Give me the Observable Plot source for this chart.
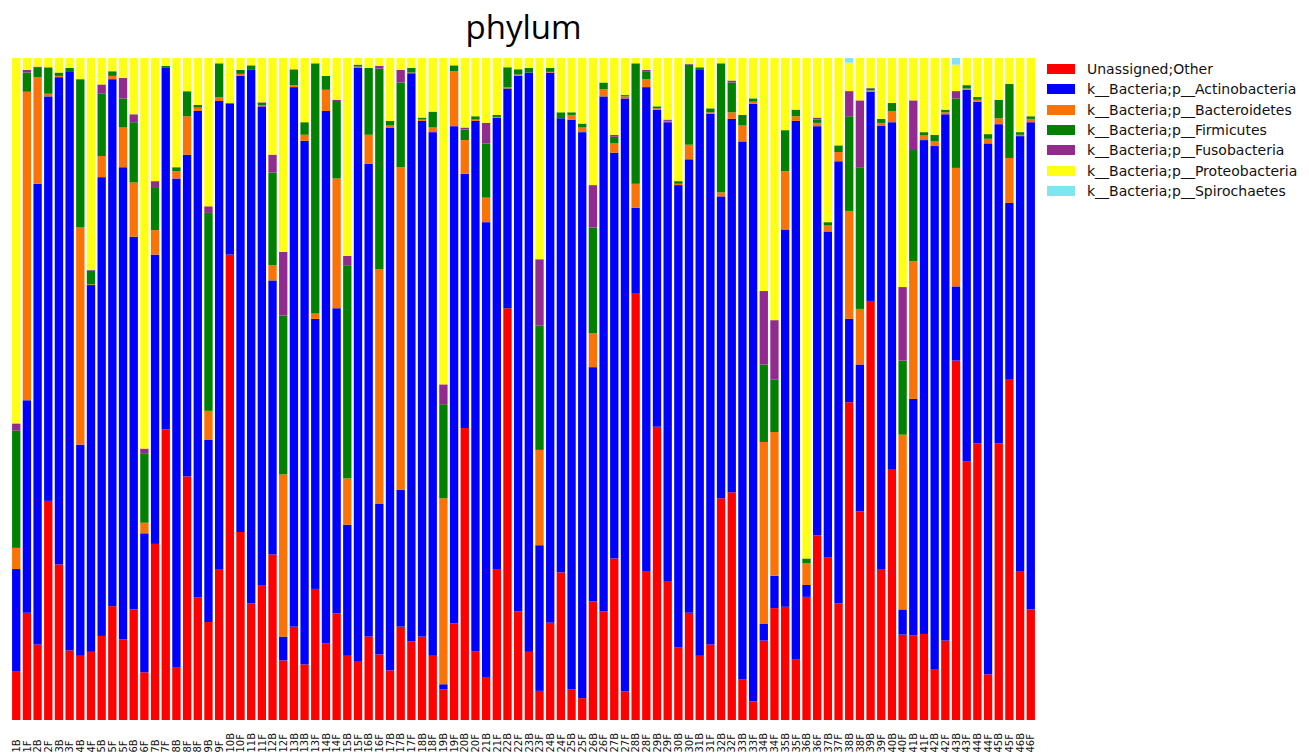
<!DOCTYPE html>
<html><head><meta charset="utf-8">
<script src="https://cdn.jsdelivr.net/npm/d3@7"></script>
<script src="https://cdn.jsdelivr.net/npm/@observablehq/plot@0.6"></script>
<style>
body{margin:0;background:#fff;width:1309px;height:756px;overflow:hidden;position:relative;font-family:"DejaVu Sans",sans-serif;}
#chart{position:absolute;left:0;top:0;}
#title{position:absolute;left:11px;width:1025px;top:3px;text-align:center;font-family:"Open Sans",sans-serif;font-size:33px;color:#000;line-height:48px;}
#legend{position:absolute;left:1047px;top:59px;}
.row{display:flex;align-items:center;height:20.3px;}
.sw{width:28px;height:10px;margin-right:12px;flex:none;}
.lab{font-family:"DejaVu Sans",sans-serif;font-size:14px;color:#111;white-space:nowrap;}
</style></head>
<body>
<div id="chart"></div>
<div id="title">phylum</div>
<div id="legend"></div>
<script>
// tick labels, one per bar
const samples = ["1B","1F","2B","2F","3B","3F","4B","4F","5B","5F","5F","6B","6F","7B","7F","8B","8F","8F","9B","9F","10B","10F","11B","11F","12B","12F","13B","13B","13F","14B","14F","15B","15F","16B","16F","17B","17B","17F","18B","18F","19B","19F","20B","20F","21B","21F","22B","22F","23B","23F","24B","24F","25B","25F","26B","26F","27B","27F","28B","28F","29B","29F","30B","30F","31B","31F","32B","32F","33B","33F","34B","34F","35B","35F","36B","36F","37B","37F","38B","38F","39B","39F","40B","40F","41B","41F","42B","42F","43B","43F","44B","44F","45B","45F","46B","46F"];

const phyla = ["Unassigned;Other","k__Bacteria;p__Actinobacteria","k__Bacteria;p__Bacteroidetes","k__Bacteria;p__Firmicutes","k__Bacteria;p__Fusobacteria","k__Bacteria;p__Proteobacteria","k__Bacteria;p__Spirochaetes"];
const colors = ["#ff0000","#0000ff","#f97306","#028002","#922b8e","#ffff14","#7fe6f0"];

const unassigned = [7.3,16.2,11.4,33.1,23.5,10.5,9.7,10.3,12.7,17.2,12.2,16.7, 7.2,26.6,43.9,8.0,36.8,18.5,14.8,22.8,70.3,28.4,17.6,20.3, 25.0,9.0,14.1,8.4,19.8,11.6,16.1,9.7,8.8,12.6,9.9,7.5, 14.1,11.9,12.6,9.7,4.6,14.6,44.1,10.4,6.5,22.8,62.2,16.4, 10.3,4.4,14.7,22.3,4.6,3.3,17.9,16.4,24.4,4.3,64.5,22.5,44.3, 21.0,11.0,16.2,9.7,11.4,33.5,34.4,6.1,2.8,12.0,16.9,17.1, 9.2,18.6,27.9,24.6,17.6,48.0,31.5,63.3,22.7,37.8,12.9,12.8, 13.0,7.7,12.0,54.3,39.1,41.8,6.9,41.8,51.4,22.4,16.7];
const actinobacteria = [15.5,32.1,69.6,61.1,73.6,87.5,31.9,55.4,69.3,79.6,71.3,56.3, 21.0,43.7,54.7,73.8,48.6,73.5,27.5,70.7,22.8,68.9,80.6,72.4, 41.4,3.6,81.5,79.1,40.8,80.4,46.1,19.8,89.7,71.4,22.8,82.0, 20.7,85.8,77.9,79.1,0.8,75.1,38.4,80.1,68.7,68.2,33.2,80.9, 87.5,22.0,83.1,68.6,86.1,85.5,35.4,77.8,61.3,89.6,12.9,73.1,47.9, 69.3,69.8,68.5,88.6,80.2,45.6,56.4,81.3,90.3,2.5,4.9,57.0, 81.3,1.8,61.8,49.2,66.8,12.6,22.2,31.6,67.1,52.5,3.8,35.7, 74.6,79.0,79.5,11.2,56.1,51.6,80.2,48.2,26.7,65.8,73.6];
const bacteroidetes = [3.2,46.6,16.1,0.4,0.2,0,32.8,0.1,3.2,0.5,6.0,8.2, 1.6,3.7,0,1.1,5.8,0.5,4.4,0.6,0,0.3,0,0.2, 2.3,24.5,0.3,0.9,0.8,3.2,19.6,7.0,0.2,4.4,35.4,0.3, 48.7,0.1,0.2,0.7,28.1,8.3,5.1,0.2,3.7,0.1,0.2,0.2, 0,14.4,0.1,0,0.7,0.7,5.1,1.1,1.4,0.3,3.6,1.2,0.2, 0.2,0.2,2.2,0,0.2,0.6,1.0,2.4,0.3,27.5,21.7,8.8, 0.7,3.3,0.5,0.9,1.4,16.3,8.4,0.2,0.4,1.7,26.4,20.8, 0.7,0.7,0.3,17.9,0.2,0.3,0.7,0.9,6.8,0.2,0.5];
const firmicutes = [17.7,2.9,1.4,3.9,0.5,0.5,22.4,2.1,9.4,0.7,4.4,9.1, 10.5,6.5,0.2,0.6,3.7,0.4,29.9,5.1,0.1,0.6,0.6,0.3, 14.0,24.0,2.3,1.9,37.8,2.1,11.7,32.2,0.3,10.1,30.3,0.7, 12.8,0.7,0.3,2.4,14.2,0.8,1.6,0.5,8.2,0.3,3.0,0.8, 0.7,18.8,0.6,0.9,0.4,0.6,16.0,1.0,1.0,0.2,18.2,1.2,0.3, 0,0.4,12.1,0.3,0.6,19.5,4.5,1.6,0.5,11.7,7.9,6.2, 1.0,0.7,0.5,0.5,1.0,14.3,21.4,0.3,0.6,1.2,11.2,16.8, 0.5,1.0,0.4,10.5,0.5,0.4,0.7,2.8,11.2,0.4,0.4];
const fusobacteria = [1.1,0.4,0.2,0.1,0,0,0,0.1,1.4,0,3.1,1.2, 0.7,0.9,0,0,0.1,0,1.0,0,0,0,0.1,0.1, 2.7,9.6,0.1,0,0,0,0.2,1.4,0,0,0.4,0, 1.9,0,0,0,3.0,0.1,0.3,0,3.1,0,0,0, 0,10.0,0,0,0,0,6.4,0,0.3,0,0,0.2,0, 0.2,0,0.1,0,0,0,0.3,0,0,11.1,9.0,0, 0,0,0.3,0,0,3.8,10.1,0.1,0,0,11.1,7.5, 0,0,0,1.1,0,0,0,0,0,0,0];
const proteobacteria = [55.2,1.8,1.3,1.4,2.2,1.5,3.2,32.0,4.0,2.0,3.0,8.5, 59.0,18.6,1.2,16.5,5.0,7.1,22.4,0.8,6.8,1.8,1.1,6.7, 14.6,29.3,1.7,9.7,0.8,2.7,6.3,29.9,1.0,1.5,1.2,9.5, 1.8,1.5,9.0,8.1,49.3,1.1,10.5,8.8,9.8,8.6,1.4,1.7, 1.5,30.4,1.5,8.2,8.2,9.9,19.2,3.7,11.6,5.6,0.8,1.8,7.3, 9.3,18.6,0.9,1.4,7.6,0.8,3.4,8.6,6.1,35.2,39.6,10.9, 7.8,75.6,9.0,24.8,13.2,4.3,6.4,4.5,9.2,6.8,34.6,6.4, 11.2,11.6,7.8,4.0,4.1,5.9,11.5,6.3,3.9,11.2,8.8];
const spirochaetes = [0,0,0,0,0,0,0,0,0,0,0,0, 0,0,0,0,0,0,0,0,0,0,0,0, 0,0,0,0,0,0,0,0,0,0,0,0, 0,0,0,0,0,0,0,0,0,0,0,0, 0,0,0,0,0,0,0,0,0,0,0,0,0, 0,0,0,0,0,0,0,0,0,0,0,0, 0,0,0,0,0,0.7,0,0,0,0,0,0, 0,0,0,1.0,0,0,0,0,0,0,0];

const series = [unassigned, actinobacteria, bacteroidetes, firmicutes, fusobacteria, proteobacteria, spirochaetes];
const idx = d3.range(samples.length);
const rows = idx.flatMap(i => phyla.map((p, j) => ({i, phylum: p, value: series[j][i]})));

const chart = Plot.plot({
  width: 1040,
  height: 756,
  marginTop: 58,
  marginBottom: 36,
  marginLeft: 11,
  marginRight: 4,
  style: {fontFamily: "DejaVu Sans", background: "#fff"},
  x: {type: "band", domain: idx, paddingInner: 0.22, paddingOuter: 0.1, round: false, axis: null},
  y: {domain: [0, 1], axis: null},
  color: {domain: phyla, range: colors},
  marks: [
    Plot.barY(rows, {x: "i", y: "value", fill: "phylum", order: phyla, offset: "normalize"}),
    Plot.text(idx, {x: d => d, text: d => samples[d], frameAnchor: "bottom", dy: 32, rotate: -90, textAnchor: "start", lineAnchor: "middle", fontSize: 10, fill: "#111"})
  ]
});
document.getElementById("chart").appendChild(chart);

const legend = document.getElementById("legend");
phyla.forEach((p, j) => {
  const row = document.createElement("div"); row.className = "row";
  const sw = document.createElement("div"); sw.className = "sw"; sw.style.background = colors[j];
  const lab = document.createElement("div"); lab.className = "lab"; lab.textContent = p;
  row.appendChild(sw); row.appendChild(lab); legend.appendChild(row);
});
</script>
</body></html>
